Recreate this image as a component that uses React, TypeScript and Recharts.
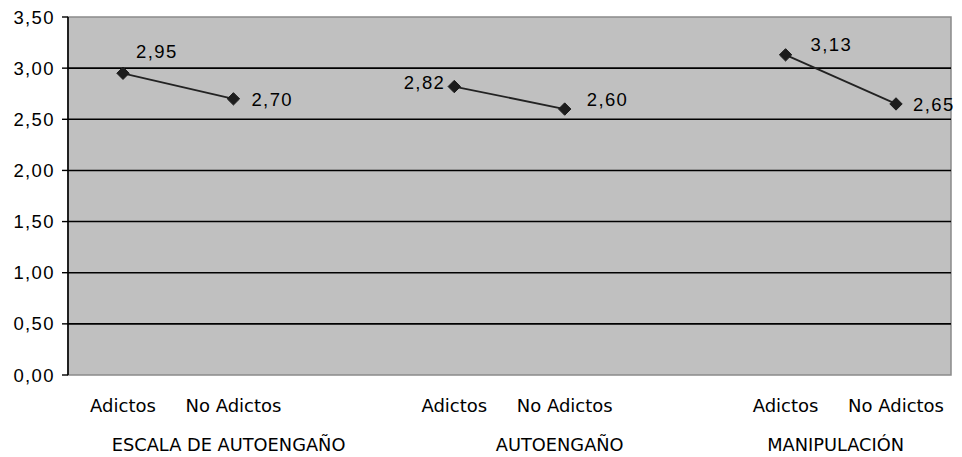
import React from "react";
import { LineChart, Line, XAxis, YAxis, ReferenceArea, ReferenceLine } from "recharts";

const categories = ["Adictos", "No Adictos", "", "Adictos", "No Adictos", "", "Adictos", "No Adictos"];
const groupNames = ["ESCALA DE AUTOENGAÑO", "AUTOENGAÑO", "MANIPULACIÓN"];
const groupStarts = [0, 3, 6];
const groupEnds = [3, 6, 8];

const escalaValues = [2.95, 2.7];
const autoengañoValues = [2.82, 2.6];
const manipulacionValues = [3.13, 2.65];
const seriesValues = [escalaValues, autoengañoValues, manipulacionValues];

const yTicks = [0, 0.5, 1, 1.5, 2, 2.5, 3, 3.5];
const gridValues = [0.5, 1, 1.5, 2, 2.5, 3];

// label placement (style): dx from point, baseline dy, anchor
const LABEL_PLACEMENT = [
  [{ dx: 13, dy: -15, anchor: "start" }, { dx: 18, dy: 7, anchor: "start" }],
  [{ dx: -9, dy: 2, anchor: "end" }, { dx: 22, dy: -3.3, anchor: "start" }],
  [{ dx: 25, dy: -3.5, anchor: "start" }, { dx: 17, dy: 7.3, anchor: "start" }],
];

const rows = categories.map((cat, i) => {
  const row: any = { idx: i, pos: i + 0.5, cat };
  seriesValues.forEach((vals, g) => {
    const local = i - groupStarts[g];
    row["s" + g] = local >= 0 && local < vals.length ? vals[local] : null;
  });
  return row;
});

const groupCenters = groupStarts.map((s, g) => (s + groupEnds[g]) / 2);

const fmt = (v: number) => v.toFixed(2).replace(".", ",");

const NUM_FONT = "'Liberation Sans', Arial, sans-serif";
const CAT_FONT = "'DejaVu Sans', sans-serif";

const Diamond = (props: any) => {
  const { cx, cy, value, index } = props;
  if (value == null || cx == null || cy == null) return <g key={`n-${index}`} />;
  const r = 6.2;
  return (
    <polygon
      key={`d-${index}`}
      points={`${cx},${cy - r} ${cx + r},${cy} ${cx},${cy + r} ${cx - r},${cy}`}
      fill="#1c1c1c"
      stroke="#1c1c1c"
    />
  );
};

const makeLabel = (g: number) => (props: any) => {
  const { x, y, value, index } = props;
  if (value == null || x == null || y == null) return <g key={`ln-${g}-${index}`} />;
  const local = index - groupStarts[g];
  const p = LABEL_PLACEMENT[g][local] || { dx: 10, dy: 0, anchor: "start" };
  return (
    <text
      key={`l-${g}-${index}`}
      x={x + p.dx}
      y={y + p.dy}
      textAnchor={p.anchor}
      fontFamily={NUM_FONT}
      fontSize={18.5}
      letterSpacing={1.4}
      fill="#000"
    >
      {fmt(value)}
    </text>
  );
};

const YTick = (props: any) => {
  const { x, y, payload } = props;
  return (
    <text x={x} y={y + 6.5} textAnchor="end" fontFamily={NUM_FONT} fontSize={18.5} letterSpacing={1.4} fill="#000">
      {fmt(payload.value)}
    </text>
  );
};

const CatTick = (props: any) => {
  const { x, y, index } = props;
  return (
    <text x={x} y={y + 37} textAnchor="middle" fontFamily={CAT_FONT} fontSize={18} fill="#000">
      {categories[index]}
    </text>
  );
};

const GroupTick = (props: any) => {
  const { x, y, index } = props;
  return (
    <text x={x - 5} y={y + 26} textAnchor="middle" fontFamily={CAT_FONT} fontSize={17.8} fill="#000">
      {groupNames[index]}
    </text>
  );
};

export default function App() {
  return (
    <div style={{ position: "absolute", left: 0, top: 0, background: "#fff" }}>
      <LineChart width={962} height={457} data={rows} margin={{ top: 17, right: 11, left: 0, bottom: 0 }}>
        <ReferenceArea
          xAxisId="grp"
          x1={0}
          x2={categories.length}
          y1={0}
          y2={3.5}
          fill="#c0c0c0"
          fillOpacity={1}
          stroke="#8a8a8a"
          strokeWidth={1.5}
        />
        {gridValues.map((v) => (
          <ReferenceLine key={v} y={v} stroke="#000" strokeWidth={1.6} />
        ))}
        <XAxis
          dataKey="cat"
          padding={{ left: 55, right: 55 }}
          height={50}
          axisLine={false}
          tickLine={false}
          tickSize={0}
          tickMargin={0}
          interval={0}
          tick={<CatTick />}
        />
        <XAxis
          xAxisId="grp"
          type="number"
          dataKey="pos"
          domain={[0, categories.length]}
          ticks={groupCenters}
          allowDataOverflow
          height={32}
          axisLine={false}
          tickLine={false}
          tickSize={0}
          tickMargin={0}
          interval={0}
          tick={<GroupTick />}
        />
        <YAxis
          width={68}
          domain={[0, 3.5]}
          ticks={yTicks}
          interval={0}
          axisLine={{ stroke: "#000", strokeWidth: 1.6 }}
          tickLine={{ stroke: "#000", strokeWidth: 1.4 }}
          tickSize={6}
          tickMargin={7}
          tick={<YTick />}
        />
        {seriesValues.map((_, g) => (
          <Line
            key={g}
            dataKey={"s" + g}
            stroke="#222"
            strokeWidth={1.8}
            connectNulls={false}
            dot={Diamond}
            activeDot={false}
            label={makeLabel(g)}
            isAnimationActive={false}
          />
        ))}
      </LineChart>
    </div>
  );
}
